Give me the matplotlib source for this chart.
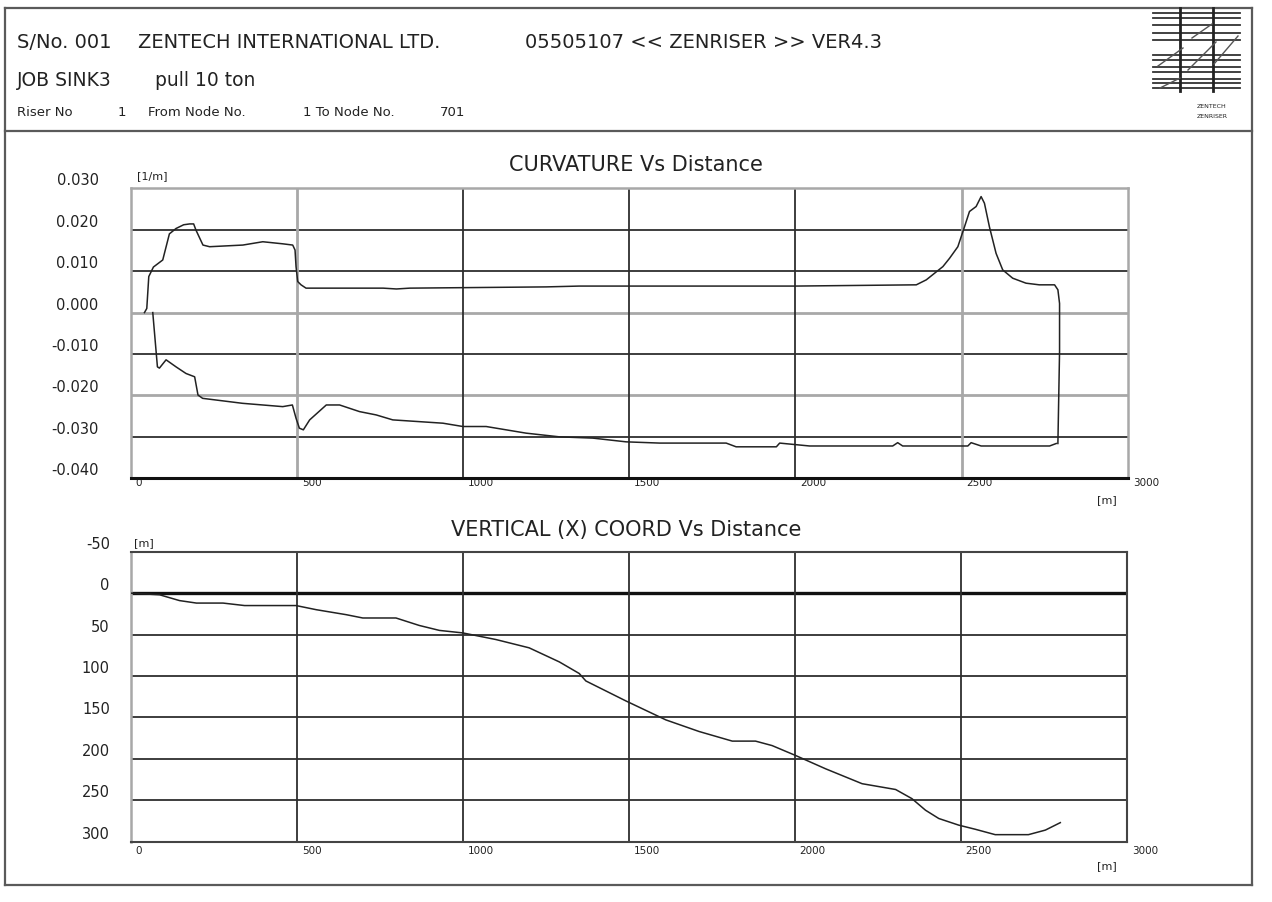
import matplotlib
matplotlib.use("Agg")
import matplotlib.pyplot as plt
from matplotlib.lines import Line2D
from matplotlib.transforms import ScaledTranslation

W, H = 1272, 902
DPI = 100

# curvature [1/m] along the riser, upper trace (closes down to the lower one at the far end)
curv_upper_dist = [42, 49, 55, 69, 97, 117, 137, 160, 178, 190, 197, 218, 238, 338, 398, 458,
                   488, 495, 498, 503, 513, 528, 760, 800, 840, 1250, 1350, 2000, 2364, 2394,
                   2419, 2444, 2464, 2489, 2509, 2524, 2544, 2559, 2569, 2584, 2604, 2624, 2654,
                   2694, 2734, 2780, 2790, 2795, 2795, 2790]
curv_upper_val = [0.0, 0.001, 0.0087, 0.011, 0.0127, 0.019, 0.0203, 0.0212, 0.0214, 0.0214,
                  0.0199, 0.0163, 0.0159, 0.0163, 0.0171, 0.0166, 0.0163, 0.0151, 0.0111, 0.0075,
                  0.0067, 0.0059, 0.0059, 0.0057, 0.0059, 0.0062, 0.0064, 0.0064, 0.0067, 0.0079,
                  0.0095, 0.0111, 0.0131, 0.0159, 0.0207, 0.0244, 0.0256, 0.0280, 0.0264, 0.0207,
                  0.0143, 0.0103, 0.0083, 0.0071, 0.0067, 0.0067, 0.0055, 0.0022, -0.0094, -0.0316]

# lower trace
curv_lower_dist = [67, 81, 87, 107, 137, 167, 193, 203, 217, 337, 458, 487, 498, 508, 520, 539,
                   589, 629, 689, 739, 789, 940, 1000, 1070, 1190, 1291, 1391, 1491, 1592, 1792,
                   1822, 1943, 1953, 2043, 2293, 2308, 2323, 2519, 2529, 2559, 2765, 2785]
curv_lower_val = [0.0, -0.0131, -0.0134, -0.0114, -0.0131, -0.0147, -0.0155, -0.0199, -0.0207,
                  -0.0219, -0.0227, -0.0223, -0.0255, -0.0279, -0.0283, -0.0259, -0.0223, -0.0223,
                  -0.0239, -0.0247, -0.0259, -0.0267, -0.0275, -0.0275, -0.0291, -0.0300, -0.0303,
                  -0.0312, -0.0315, -0.0315, -0.0324, -0.0324, -0.0315, -0.0322, -0.0322, -0.0314,
                  -0.0322, -0.0322, -0.0314, -0.0322, -0.0322, -0.0316]

# vertical (X) coordinate [m] along the riser
vert_dist = [0, 87, 147, 198, 278, 343, 498, 559, 649, 699, 799, 869, 930, 1000, 1100, 1200,
             1291, 1351, 1371, 1491, 1612, 1712, 1812, 1882, 1932, 2003, 2093, 2203, 2304, 2353,
             2394, 2434, 2494, 2544, 2604, 2704, 2755, 2785, 2800]
vert_coord = [0, 2, 9, 12, 12, 15, 15, 20, 26, 30, 30, 39, 45, 48, 56, 66,
              83, 97, 106, 130, 153, 167, 178.6, 178.6, 184, 196, 212, 230, 237, 248,
              262, 272, 280, 285, 291.5, 291.5, 286, 280, 277]

dist_ticks = [0, 500, 1000, 1500, 2000, 2500, 3000]
dist_labels = ["0", "500", "1000", "1500", "2000", "2500", "3000"]
curv_ticks = [0.030, 0.020, 0.010, 0.000, -0.010, -0.020, -0.030, -0.040]
curv_labels = ["0.030", "0.020", "0.010", "0.000", "-0.010", "-0.020", "-0.030", "-0.040"]
vert_ticks = [-50, 0, 50, 100, 150, 200, 250, 300]
vert_labels = ["-50", "0", "50", "100", "150", "200", "250", "300"]

INK = "#222222"
GRID = "#2e2e2e"
PALE = "#a8a8a8"
plt.rcParams["font.family"] = ["DejaVu Sans"]


def fx(x):
    return x / W


def fy(y):
    return 1 - y / H


def hline(fig, x0, x1, y, **kw):
    fig.add_artist(Line2D([fx(x0), fx(x1)], [fy(y), fy(y)], transform=fig.transFigure, **kw))


def vline(fig, x, y0, y1, **kw):
    fig.add_artist(Line2D([fx(x), fx(x)], [fy(y0), fy(y1)], transform=fig.transFigure, **kw))


def style_axes(fig, ax, ylabels, ypad, xpad):
    ax.set_xticks(dist_ticks, dist_labels)
    ax.tick_params(axis="x", length=0, pad=xpad, labelsize=7.5, labelcolor=INK)
    ax.tick_params(axis="y", length=0, pad=ypad, labelsize=10.5, labelcolor=INK)
    shift_x = ScaledTranslation(5 / DPI, 0, fig.dpi_scale_trans)
    for lbl in ax.get_xticklabels():
        lbl.set_ha("left")
        lbl.set_transform(lbl.get_transform() + shift_x)
    shift_y = ScaledTranslation(0, 9 / DPI, fig.dpi_scale_trans)
    for lbl in ax.get_yticklabels():
        lbl.set_transform(lbl.get_transform() + shift_y)


fig = plt.figure(figsize=(W / DPI, H / DPI), dpi=DPI)
fig.patch.set_facecolor("white")

# page frame and header
frame = dict(color="#5a5a5a", lw=1.6)
hline(fig, 5, 1252, 8, **frame)
hline(fig, 5, 1252, 885, **frame)
vline(fig, 5, 8, 885, **frame)
vline(fig, 1252, 8, 885, **frame)
hline(fig, 5, 1252, 131, **frame)

fig.text(fx(17), fy(42), "S/No. 001", fontsize=14, color=INK, va="center")
fig.text(fx(138), fy(42), "ZENTECH INTERNATIONAL LTD.", fontsize=14, color=INK, va="center")
fig.text(fx(525), fy(42), "05505107 << ZENRISER >> VER4.3", fontsize=14, color=INK, va="center")
fig.text(fx(17), fy(80), "JOB SINK3", fontsize=13.5, color=INK, va="center")
fig.text(fx(155), fy(80), "pull 10 ton", fontsize=13.5, color=INK, va="center")
fig.text(fx(17), fy(113), "Riser No", fontsize=9.5, color=INK, va="center")
fig.text(fx(118), fy(113), "1", fontsize=9.5, color=INK, va="center")
fig.text(fx(148), fy(113), "From Node No.", fontsize=9.5, color=INK, va="center")
fig.text(fx(303), fy(113), "1 To Node No.", fontsize=9.5, color=INK, va="center")
fig.text(fx(440), fy(113), "701", fontsize=9.5, color=INK, va="center")

# company mark
logo = dict(color="#333333", lw=1.3)
for y in [13, 18, 25, 33, 40, 55, 60, 67, 72, 79, 83, 88]:
    hline(fig, 1153, 1240, y, **logo)
for x in [1180, 1213]:
    vline(fig, x, 8, 91, lw=2.0, color="#222222")
for x0, y0, x1, y1 in [(1158, 66, 1183, 48), (1188, 70, 1216, 42), (1214, 64, 1238, 36),
                       (1192, 38, 1212, 24), (1160, 88, 1180, 78)]:
    fig.add_artist(Line2D([fx(x0), fx(x1)], [fy(y0), fy(y1)], transform=fig.transFigure,
                          color="#555555", lw=1.0))
fig.text(fx(1212), fy(107), "ZENTECH", fontsize=4.5, color=INK, ha="center", va="center")
fig.text(fx(1212), fy(116), "ZENRISER", fontsize=4.5, color=INK, ha="center", va="center")

# curvature panel
ax1 = fig.add_axes([fx(130.5), fy(478.3), (1127.7 - 130.5) / W, (478.3 - 188.3) / H])
ax1.set_xlim(0, 3000)
ax1.set_ylim(-0.040, 0.030)
ax1.set_yticks(curv_ticks, curv_labels)
style_axes(fig, ax1, curv_labels, ypad=23, xpad=0)
for v in curv_ticks[1:-1]:
    pale = v in (0.000, -0.020)
    ax1.axhline(v, color=PALE if pale else GRID, lw=2.0 if pale else 1.3, zorder=1)
for d in dist_ticks[1:-1]:
    pale = d in (500, 2500)
    ax1.axvline(d, color=PALE if pale else GRID, lw=2.0 if pale else 1.3, zorder=1)
for side in ["top", "left", "right"]:
    ax1.spines[side].set_color(PALE)
    ax1.spines[side].set_linewidth(1.8)
ax1.spines["bottom"].set_color("#111111")
ax1.spines["bottom"].set_linewidth(2.2)
ax1.plot(curv_upper_dist, curv_upper_val, color=INK, lw=1.1, zorder=3)
ax1.plot(curv_lower_dist, curv_lower_val, color=INK, lw=1.1, zorder=3)

fig.text(fx(636), fy(165), "CURVATURE Vs Distance", fontsize=15, color=INK, ha="center", va="center")
fig.text(fx(137), fy(176), "[1/m]", fontsize=8, color=INK, va="center")
fig.text(fx(1097), fy(500), "[m]", fontsize=8, color=INK, va="center")

# vertical coordinate panel
ax2 = fig.add_axes([fx(130.7), fy(841.7), (1126.7 - 130.7) / W, (841.7 - 551.7) / H])
ax2.set_xlim(0, 3000)
ax2.set_ylim(300, -50)
ax2.set_yticks(vert_ticks, vert_labels)
style_axes(fig, ax2, vert_labels, ypad=15, xpad=3)
for v in vert_ticks[1:-1]:
    ax2.axhline(v, color="#111111" if v == 0 else GRID, lw=2.4 if v == 0 else 1.3, zorder=1)
for d in dist_ticks[1:-1]:
    ax2.axvline(d, color=GRID, lw=1.3, zorder=1)
for side in ["top", "bottom", "right"]:
    ax2.spines[side].set_color("#444444")
    ax2.spines[side].set_linewidth(1.5)
ax2.spines["left"].set_color(PALE)
ax2.spines["left"].set_linewidth(1.8)
ax2.plot(vert_dist, vert_coord, color=INK, lw=1.1, zorder=3)

fig.text(fx(626), fy(530), "VERTICAL (X) COORD Vs Distance", fontsize=15, color=INK, ha="center", va="center")
fig.text(fx(134), fy(543), "[m]", fontsize=8, color=INK, va="center")
fig.text(fx(1097), fy(866), "[m]", fontsize=8, color=INK, va="center")

fig.savefig("out.png", dpi=DPI, facecolor="white")
